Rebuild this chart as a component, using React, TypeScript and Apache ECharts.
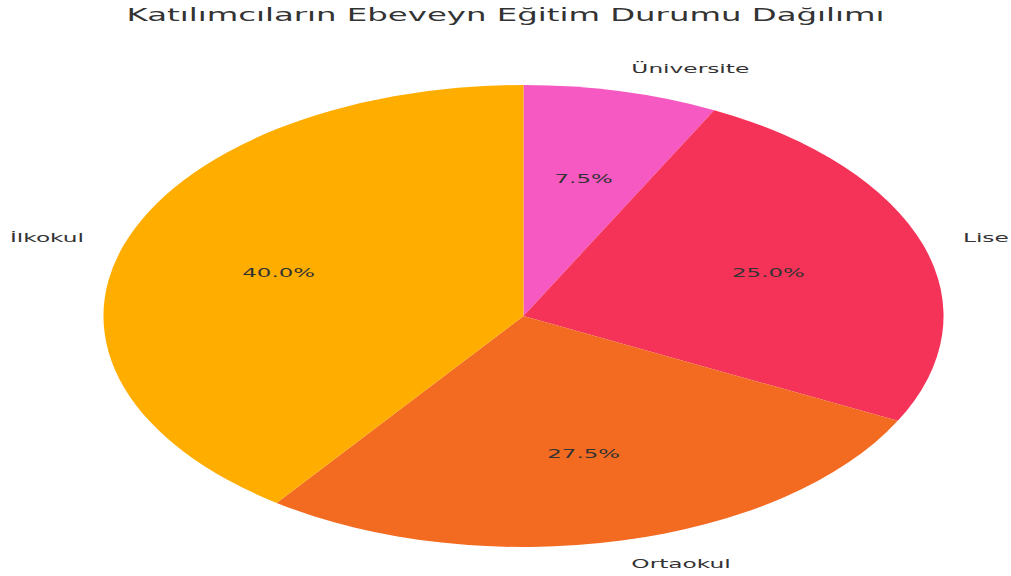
import React, { useEffect, useRef } from "react";
import * as echarts from "echarts";

const categories = ["Üniversite", "Lise", "Ortaokul", "İlkokul"];
const values = [7.5, 25.0, 27.5, 40.0];
const colors = ["#F659C1", "#F53257", "#F36A21", "#FFAE00"];
const title = "Katılımcıların Ebeveyn Eğitim Durumu Dağılımı";

const W = 556;
const H = 576;
const SCALE_X = 1011 / W;
const R = 231;
const CX = 523.5 / SCALE_X;
const CY = 316;

export default function App() {
  const ref = useRef<HTMLDivElement>(null);
  useEffect(() => {
    if (!ref.current) return;
    const chart = echarts.init(ref.current, undefined, { renderer: "svg" });
    const data = categories.map((c, i) => ({ name: c, value: values[i], itemStyle: { color: colors[i] } }));
    const font = "DejaVu Sans";
    chart.setOption({
      animation: false,
      title: {
        text: title,
        left: "center",
        top: 1,
        padding: [5, 0, 5, 5.5],
        textStyle: { fontFamily: font, fontSize: 17.8, fontWeight: "normal", color: "#333" },
      },
      series: [
        {
          type: "pie",
          center: [CX, CY],
          radius: [0, R],
          startAngle: 90,
          clockwise: true,
          avoidLabelOverlap: false,
          silent: true,
          data,
          label: {
            show: true,
            position: "outside",
            distanceToLabelLine: 0,
            fontFamily: font,
            fontSize: 12.8,
            color: "#333",
            formatter: "{b}",
          },
          labelLine: { show: false, length: R * 0.1, length2: 0 },
          itemStyle: { borderWidth: 0 },
        },
        {
          type: "pie",
          center: [CX, CY],
          radius: [R * 0.2, R],
          startAngle: 90,
          clockwise: true,
          silent: true,
          percentPrecision: 1,
          data: categories.map((c, i) => ({ name: c, value: values[i] })),
          itemStyle: { color: "rgba(0,0,0,0)", borderWidth: 0 },
          label: {
            show: true,
            position: "inside",
            fontFamily: font,
            fontSize: 12.6,
            color: "#333",
            formatter: (p: any) => Number(p.percent).toFixed(1) + "%",
          },
          labelLine: { show: false },
        },
      ],
    });
    return () => chart.dispose();
  }, []);
  return (
    <div
      ref={ref}
      style={{
        position: "fixed",
        left: 0,
        top: 0,
        width: W,
        height: H,
        transform: `scaleX(${SCALE_X})`,
        transformOrigin: "0 0",
        background: "#fff",
      }}
    />
  );
}
